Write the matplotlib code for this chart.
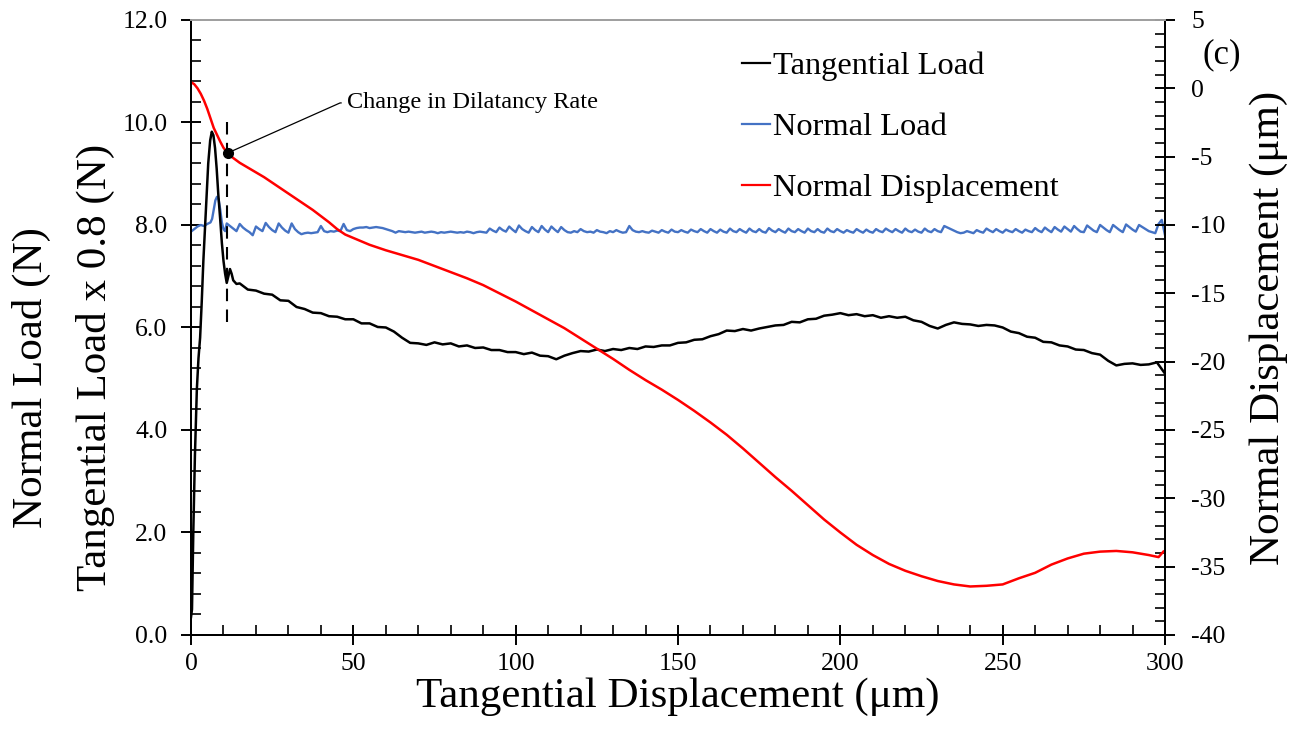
import numpy as np
import matplotlib
matplotlib.use("Agg")
import matplotlib.pyplot as plt
from matplotlib.ticker import MultipleLocator, FormatStrFormatter
from matplotlib.lines import Line2D

plt.rcParams['font.family'] = ['Liberation Serif', 'DejaVu Serif']
plt.rcParams['axes.unicode_minus'] = False

# Tangential load x 0.8 (N) -- rise to the peak, then the sliding stage
tan_x_start = [0.0, 0.3, 0.7, 1.2, 1.8, 2.3, 2.8, 3.3, 3.8, 4.5, 5.3, 5.9, 6.4,
               6.9, 7.4, 7.9, 8.4, 9.0, 9.5, 10.0, 10.5, 11.0, 11.5, 12.0, 12.5,
               13.0, 14.0]
tan_y_start = [0.35, 0.5, 2.0, 3.5, 4.8, 5.4, 5.8, 6.5, 7.3, 8.2, 9.2, 9.65, 9.82,
               9.75, 9.5, 9.1, 8.6, 8.1, 7.65, 7.3, 7.05, 6.87, 7.0, 7.14, 7.05,
               6.92, 6.85]
tan_x_tail = np.arange(15, 300.01, 2.5)
tan_y_tail = [6.86, 6.74, 6.72, 6.66, 6.64, 6.53, 6.52, 6.40, 6.36, 6.29,
              6.28, 6.22, 6.21, 6.16, 6.16, 6.08, 6.08, 6.01, 6.00, 5.92,
              5.80, 5.70, 5.69, 5.66, 5.71, 5.67, 5.69, 5.63, 5.65, 5.60,
              5.61, 5.56, 5.56, 5.52, 5.52, 5.48, 5.51, 5.45, 5.44, 5.38,
              5.45, 5.50, 5.54, 5.53, 5.57, 5.54, 5.58, 5.56, 5.60, 5.58,
              5.63, 5.62, 5.65, 5.65, 5.70, 5.71, 5.76, 5.77, 5.83, 5.87,
              5.94, 5.93, 5.97, 5.94, 5.98, 6.01, 6.04, 6.05, 6.11, 6.10,
              6.16, 6.17, 6.23, 6.25, 6.28, 6.24, 6.26, 6.22, 6.24, 6.19,
              6.22, 6.19, 6.21, 6.14, 6.11, 6.03, 5.98, 6.05, 6.10, 6.07,
              6.06, 6.03, 6.05, 6.04, 6.00, 5.92, 5.89, 5.82, 5.80, 5.72,
              5.71, 5.65, 5.63, 5.57, 5.56, 5.50, 5.47, 5.35, 5.26, 5.29,
              5.30, 5.27, 5.28, 5.32, 5.10]

# Normal load (N)
norm_x_start = [0, 1, 2, 3, 4, 5, 6, 6.5, 7, 7.5, 8, 8.5, 9, 9.5, 10, 10.5, 11]
norm_y_start = [7.87, 7.92, 7.97, 8.0, 7.98, 8.02, 8.05, 8.12, 8.3, 8.48, 8.55,
                8.5, 8.3, 8.05, 7.92, 7.88, 8.03]
norm_x_tail = np.arange(12, 301)
norm_y_tail = [7.98, 7.93, 7.88, 8.02, 7.95, 7.90, 7.86, 7.80, 7.97, 7.92,
               7.88, 8.04, 7.96, 7.90, 7.86, 8.03, 7.95, 7.89, 7.85, 8.03,
               7.92, 7.86, 7.82, 7.84, 7.85, 7.84, 7.85, 7.86, 7.98, 7.88,
               7.86, 7.88, 7.87, 7.89, 7.88, 8.02, 7.90, 7.88, 7.92, 7.94,
               7.95, 7.95, 7.96, 7.94, 7.95, 7.96, 7.95, 7.94, 7.92, 7.90,
               7.88, 7.85, 7.88, 7.87, 7.86, 7.87, 7.86, 7.85, 7.86, 7.87,
               7.85, 7.86, 7.87, 7.86, 7.84, 7.86, 7.85, 7.86, 7.87, 7.86,
               7.85, 7.86, 7.85, 7.87, 7.86, 7.84, 7.86, 7.87, 7.86, 7.85,
               7.93, 7.89, 7.86, 7.95, 7.90, 7.87, 7.97, 7.91, 7.86, 7.99,
               7.92, 7.88, 7.85, 7.96, 7.90, 7.86, 7.98, 7.91, 7.86, 7.97,
               7.91, 7.86, 7.96, 7.90, 7.86, 7.85, 7.88, 7.86, 7.92, 7.88,
               7.86, 7.87, 7.85, 7.90, 7.87, 7.86, 7.84, 7.88, 7.86, 7.90,
               7.87, 7.85, 7.86, 7.98, 7.90, 7.87, 7.86, 7.88, 7.86, 7.85,
               7.89, 7.87, 7.85, 7.90, 7.87, 7.85, 7.91, 7.87, 7.86, 7.90,
               7.87, 7.85, 7.91, 7.88, 7.86, 7.92, 7.88, 7.85, 7.92, 7.88,
               7.85, 7.91, 7.87, 7.85, 7.93, 7.88, 7.86, 7.92, 7.88, 7.85,
               7.93, 7.88, 7.86, 7.92, 7.87, 7.85, 7.94, 7.89, 7.86, 7.92,
               7.88, 7.85, 7.93, 7.88, 7.86, 7.92, 7.88, 7.85, 7.93, 7.88,
               7.86, 7.92, 7.87, 7.85, 7.93, 7.88, 7.86, 7.92, 7.88, 7.85,
               7.90, 7.87, 7.85, 7.92, 7.88, 7.85, 7.91, 7.87, 7.85, 7.92,
               7.88, 7.86, 7.93, 7.89, 7.86, 7.92, 7.88, 7.85, 7.93, 7.88,
               7.86, 7.91, 7.87, 7.85, 7.93, 7.88, 7.86, 7.92, 7.88, 7.86,
               7.98, 7.95, 7.92, 7.89, 7.86, 7.84, 7.85, 7.88, 7.86, 7.84,
               7.90, 7.87, 7.85, 7.93, 7.89, 7.86, 7.92, 7.88, 7.85, 7.91,
               7.88, 7.86, 7.92, 7.88, 7.85, 7.91, 7.88, 7.86, 7.94, 7.89,
               7.86, 7.95, 7.90, 7.86, 7.96, 7.91, 7.87, 7.97, 7.92, 7.87,
               7.98, 7.92, 7.87, 7.86, 7.99, 7.94, 7.89, 7.86, 8.00, 7.95,
               7.90, 7.86, 8.00, 7.95, 7.90, 7.86, 8.01, 7.96, 7.91, 7.87,
               8.00, 7.96, 7.92, 7.88, 7.86, 7.84, 8.02, 8.10, 7.80]

# Normal displacement (um), right axis
disp_x = [0, 1, 2, 3, 4, 5, 6, 7, 8, 9, 10, 11, 12, 13, 15, 17.5, 20, 22.5, 25,
          27.5, 30, 32.5, 35, 37.5, 40, 42.5, 45, 47.5, 50, 55, 60, 65, 70, 75,
          80, 85, 90, 95, 100, 105, 110, 115, 120, 125, 130, 135, 140, 145, 150,
          155, 160, 165, 170, 175, 180, 185, 190, 195, 200, 205, 210, 215, 220,
          225, 230, 235, 240, 245, 250, 255, 260, 265, 270, 275, 280, 285, 290,
          295, 298, 299.5]
disp_y = [0.45, 0.3, 0.0, -0.4, -0.9, -1.5, -2.2, -2.9, -3.4, -3.9, -4.35, -4.65,
          -4.9, -5.1, -5.45, -5.8, -6.15, -6.5, -6.9, -7.3, -7.7, -8.1, -8.5,
          -8.9, -9.35, -9.8, -10.3, -10.7, -10.95, -11.45, -11.85, -12.2, -12.55,
          -13.0, -13.45, -13.9, -14.4, -15.0, -15.6, -16.25, -16.9, -17.55,
          -18.3, -19.05, -19.8, -20.6, -21.35, -22.05, -22.8, -23.6, -24.45,
          -25.35, -26.35, -27.4, -28.45, -29.45, -30.5, -31.55, -32.5, -33.4,
          -34.15, -34.8, -35.3, -35.7, -36.05, -36.3, -36.45, -36.4, -36.3,
          -35.85, -35.45, -34.85, -34.4, -34.05, -33.9, -33.85, -33.95, -34.15,
          -34.3, -33.9]

# point where the dilatancy rate changes
change_x = 11.3
change_y = -4.73
change_label = 'Change in Dilatancy Rate'

tan_x = np.concatenate([tan_x_start, tan_x_tail])
tan_y = np.concatenate([tan_y_start, tan_y_tail])
norm_x = np.concatenate([norm_x_start, norm_x_tail])
norm_y = np.concatenate([norm_y_start, norm_y_tail])

blue = '#4472C4'

fig = plt.figure(figsize=(13.03, 7.37), dpi=100)
ax = fig.add_axes([0.1466, 0.1384, 0.7475, 0.8345])
ax2 = ax.twinx()

ax.plot(tan_x, tan_y, color='black', lw=1.8, zorder=3)
ax.plot(norm_x, norm_y, color=blue, lw=1.7, zorder=2)
ax2.plot(disp_x, disp_y, color='red', lw=1.8)

# dashed marker at the change point + annotation
ax.plot([11.0, 11.0], [10.0, 6.1], color='black', lw=1.5, ls=(0, (6, 4)))
ax2.plot([change_x], [change_y], 'o', color='black', ms=7, zorder=5)
ax2.annotate(change_label, xy=(change_x, change_y), xytext=(48.0, -1.07),
             fontsize=17.5, va='center', ha='left',
             arrowprops=dict(arrowstyle='-', color='black', lw=0.9,
                             shrinkA=2, shrinkB=0,
                             connectionstyle='angle,angleA=0,angleB=24,rad=0'))

ax.set_xlim(0, 300)
ax.set_ylim(0, 12)
ax2.set_ylim(-40, 5)

ax.xaxis.set_major_locator(MultipleLocator(50))
ax.xaxis.set_minor_locator(MultipleLocator(10))
ax.yaxis.set_major_locator(MultipleLocator(2))
ax.yaxis.set_minor_locator(MultipleLocator(0.4))
ax.yaxis.set_major_formatter(FormatStrFormatter('%.1f'))
ax2.yaxis.set_major_locator(MultipleLocator(5))
ax2.yaxis.set_minor_locator(MultipleLocator(1))

ax.tick_params(axis='both', which='major', direction='inout', length=14,
               width=1.4, labelsize=18.5)
ax.tick_params(axis='both', which='minor', direction='in', length=7, width=1.2)
ax.tick_params(axis='y', which='major', pad=10)
ax.tick_params(axis='x', which='major', pad=6)
ax2.tick_params(axis='y', which='major', direction='inout', length=14,
                width=1.4, labelsize=18.5, pad=12)
ax2.tick_params(axis='y', which='minor', direction='in', length=7, width=1.2)

for a in (ax, ax2):
    for side in ('left', 'bottom', 'right'):
        a.spines[side].set_linewidth(1.4)
    a.spines['top'].set_color('#a0a0a0')
    a.spines['top'].set_linewidth(1.4)

ax.set_xlabel('Tangential Displacement (\u03bcm)', fontsize=31, labelpad=2)
ax2.set_ylabel('Normal Displacement (\u03bcm)', fontsize=31, labelpad=17)
fig.text(0.024, 0.488, 'Normal Load (N)', rotation=90, fontsize=31,
         ha='center', va='center')
fig.text(0.073, 0.502, 'Tangential Load x 0.8 (N)', rotation=90, fontsize=31,
         ha='center', va='center')

handles = [Line2D([], [], color='black', lw=1.6),
           Line2D([], [], color=blue, lw=1.6),
           Line2D([], [], color='red', lw=1.6)]
labels = ['Tangential Load', 'Normal Load', 'Normal Displacement']
fig.legend(handles, labels, loc='upper left', bbox_to_anchor=(0.5695, 0.930),
           frameon=False, fontsize=23.4, handlelength=0.86, handletextpad=0.1,
           labelspacing=0.96, borderpad=0, borderaxespad=0)

fig.text(0.938, 0.925, '(c)', fontsize=25, ha='center', va='center')

fig.savefig('out.png', dpi=100)
